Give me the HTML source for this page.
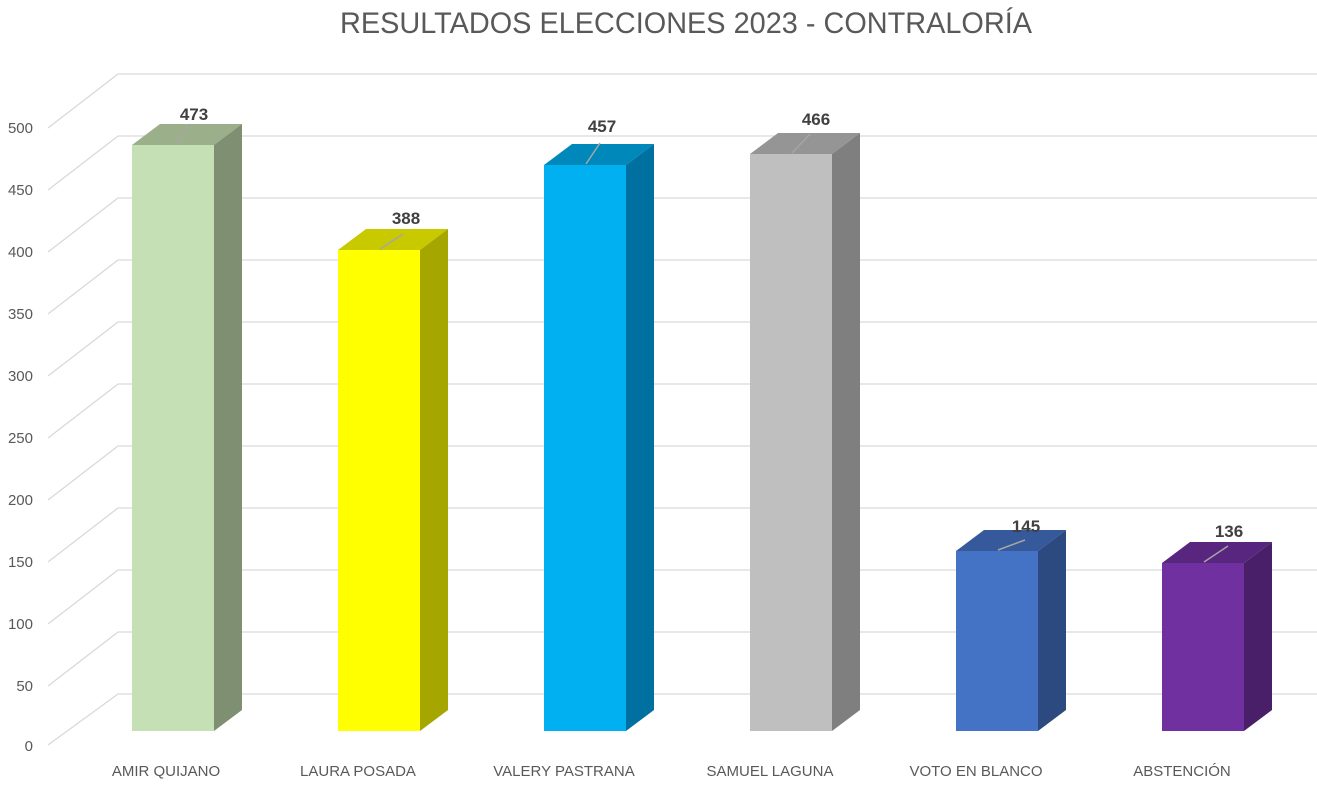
<!DOCTYPE html>
<html><head><meta charset="utf-8"><style>
html,body{margin:0;padding:0;background:#fff;}
svg{display:block;font-family:"Liberation Sans",sans-serif;}
</style></head><body>
<svg width="1317" height="789" xmlns="http://www.w3.org/2000/svg">
<rect width="1317" height="789" fill="#fff"/>
<text x="686" y="33" text-anchor="middle" font-size="30" fill="#595959" textLength="692" lengthAdjust="spacingAndGlyphs">RESULTADOS ELECCIONES 2023 - CONTRALORÍA</text>
<g stroke="#d9d9d9" stroke-width="1.3" fill="none">
<line x1="118" y1="74" x2="1317" y2="74"/><line x1="48" y1="128" x2="118" y2="74"/>
<line x1="118" y1="136" x2="1317" y2="136"/><line x1="48" y1="190" x2="118" y2="136"/>
<line x1="118" y1="198" x2="1317" y2="198"/><line x1="48" y1="252" x2="118" y2="198"/>
<line x1="118" y1="260" x2="1317" y2="260"/><line x1="48" y1="314" x2="118" y2="260"/>
<line x1="118" y1="322" x2="1317" y2="322"/><line x1="48" y1="376" x2="118" y2="322"/>
<line x1="118" y1="384" x2="1317" y2="384"/><line x1="48" y1="438" x2="118" y2="384"/>
<line x1="118" y1="446" x2="1317" y2="446"/><line x1="48" y1="500" x2="118" y2="446"/>
<line x1="118" y1="508" x2="1317" y2="508"/><line x1="48" y1="562" x2="118" y2="508"/>
<line x1="118" y1="570" x2="1317" y2="570"/><line x1="48" y1="624" x2="118" y2="570"/>
<line x1="118" y1="632" x2="1317" y2="632"/><line x1="48" y1="686" x2="118" y2="632"/>
<line x1="118" y1="694" x2="1317" y2="694"/><line x1="48" y1="745" x2="118" y2="694"/>
</g>
<g font-size="15" fill="#595959" text-anchor="end">
<text x="33" y="133">500</text><text x="33" y="195">450</text><text x="33" y="257">400</text>
<text x="33" y="319">350</text><text x="33" y="381">300</text><text x="33" y="443">250</text>
<text x="33" y="505">200</text><text x="33" y="567">150</text><text x="33" y="629">100</text>
<text x="33" y="691">50</text><text x="33" y="751">0</text>
</g>
<g>
<polygon points="132,145 160,124 242,124 214,145" fill="#9BAF8A"/>
<polygon points="214,145 242,124 242,710 214,731" fill="#7F8F72"/>
<rect x="132" y="145" width="82" height="586" fill="#C5E0B4"/>

<polygon points="338,250 366,229 448,229 420,250" fill="#C9C900"/>
<polygon points="420,250 448,229 448,710 420,731" fill="#A6A600"/>
<rect x="338" y="250" width="82" height="481" fill="#FFFF00"/>

<polygon points="544,165 572,144 654,144 626,165" fill="#0088BB"/>
<polygon points="626,165 654,144 654,710 626,731" fill="#0070A0"/>
<rect x="544" y="165" width="82" height="566" fill="#00B0F0"/>

<polygon points="750,154 778,133 860,133 832,154" fill="#959595"/>
<polygon points="832,154 860,133 860,710 832,731" fill="#7F7F7F"/>
<rect x="750" y="154" width="82" height="577" fill="#BFBFBF"/>

<polygon points="956,551 984,530 1066,530 1038,551" fill="#35599A"/>
<polygon points="1038,551 1066,530 1066,710 1038,731" fill="#2C4A80"/>
<rect x="956" y="551" width="82" height="180" fill="#4472C4"/>

<polygon points="1162,563 1190,542 1272,542 1244,563" fill="#58257F"/>
<polygon points="1244,563 1272,542 1272,710 1244,731" fill="#481F68"/>
<rect x="1162" y="563" width="82" height="168" fill="#7030A0"/>
</g>
<g stroke="#a6a6a6" stroke-width="1.5">
<line x1="176" y1="143" x2="190" y2="124"/>
<line x1="380" y1="249" x2="403" y2="234"/>
<line x1="586" y1="164" x2="600" y2="143"/>
<line x1="792" y1="153" x2="810" y2="134"/>
<line x1="998" y1="550" x2="1025" y2="540"/>
<line x1="1204" y1="562" x2="1228" y2="546"/>
</g>
<g font-size="17" font-weight="bold" fill="#404040" text-anchor="middle">
<text x="194" y="120">473</text><text x="406" y="224">388</text><text x="602" y="132">457</text>
<text x="816" y="125">466</text><text x="1026" y="532">145</text><text x="1229" y="537">136</text>
</g>
<g font-size="15" fill="#595959" text-anchor="middle">
<text x="166" y="776">AMIR QUIJANO</text><text x="358" y="776">LAURA POSADA</text>
<text x="564" y="776">VALERY PASTRANA</text><text x="770" y="776">SAMUEL LAGUNA</text>
<text x="976" y="776">VOTO EN BLANCO</text><text x="1182" y="776">ABSTENCIÓN</text>
</g>
</svg>
</body></html>
